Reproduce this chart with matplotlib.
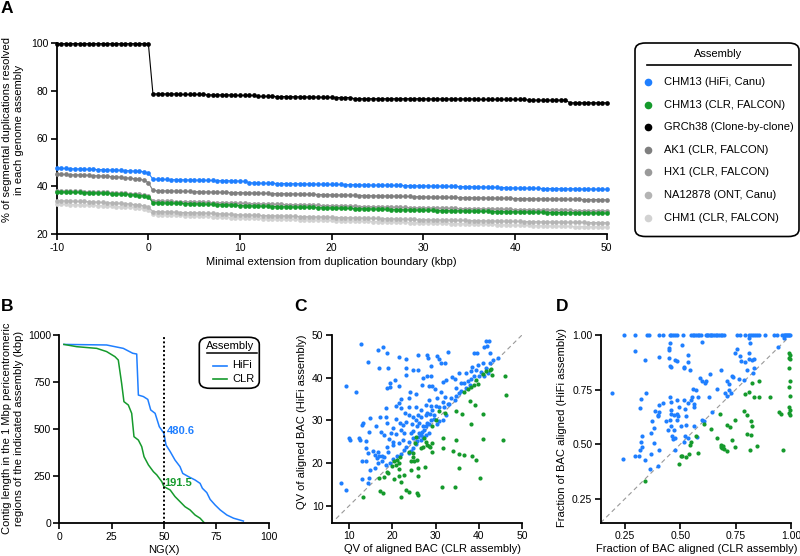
import numpy as np
import matplotlib
matplotlib.use('Agg')
import matplotlib.pyplot as plt
from matplotlib.patches import FancyBboxPatch
from matplotlib.lines import Line2D

plt.rcParams['font.family'] = ['Liberation Sans', 'DejaVu Sans']
plt.rcParams['axes.unicode_minus'] = False

# ---------------- Panel A data ----------------
ext_kbp = np.arange(-10, 50.01, 0.5)

hifi_canu = [
    47.6, 47.5, 47.5, 47.4, 47.3, 47.3, 47.2, 47.1, 47.1, 47.0,
    47.0, 46.9, 46.8, 46.8, 46.7, 46.6, 46.5, 46.4, 46.3, 46.1, 45.6,
    43.0, 43.0, 42.9, 42.9, 42.8, 42.8, 42.8, 42.7, 42.7, 42.6,
    42.6, 42.6, 42.5, 42.5, 42.4, 42.4, 42.4, 42.3, 42.3, 42.2,
    42.1, 41.6, 41.4, 41.4, 41.3, 41.3, 41.3, 41.2, 41.2, 41.2,
    41.1, 41.1, 41.1, 41.0, 41.0, 41.0, 40.9, 40.9, 40.9, 40.8,
    40.8, 40.8, 40.7, 40.7, 40.7, 40.6, 40.6, 40.6, 40.5, 40.5,
    40.5, 40.5, 40.4, 40.4, 40.4, 40.3, 40.3, 40.3, 40.2, 40.2,
    40.2, 40.1, 40.1, 40.1, 40.0, 40.0, 40.0, 39.9, 39.9, 39.9,
    39.8, 39.8, 39.7, 39.7, 39.6, 39.6, 39.5, 39.5, 39.4, 39.3,
    39.3, 39.3, 39.2, 39.2, 39.2, 39.1, 39.1, 39.1, 39.1, 39.0,
    39.0, 39.0, 39.0, 38.9, 38.9, 38.9, 38.9, 38.8, 38.8, 38.8]

clr_falcon = [
    37.7, 37.7, 37.6, 37.6, 37.5, 37.5, 37.4, 37.4, 37.3, 37.2,
    37.2, 37.1, 37.0, 36.9, 36.8, 36.7, 36.6, 36.4, 36.2, 36.0, 35.6,
    33.2, 33.1, 33.1, 33.0, 33.0, 32.9, 32.9, 32.8, 32.8, 32.7,
    32.7, 32.6, 32.5, 32.5, 32.4, 32.4, 32.3, 32.2, 32.1, 32.0,
    31.9, 31.9, 31.8, 31.8, 31.7, 31.7, 31.6, 31.6, 31.5, 31.5,
    31.4, 31.4, 31.3, 31.3, 31.2, 31.2, 31.1, 31.1, 31.0, 31.0,
    30.9, 30.9, 30.8, 30.8, 30.7, 30.7, 30.6, 30.6, 30.5, 30.5,
    30.4, 30.4, 30.3, 30.3, 30.3, 30.2, 30.2, 30.1, 30.1, 30.0,
    30.0, 30.0, 29.9, 29.9, 29.9, 29.8, 29.8, 29.8, 29.7, 29.7,
    29.7, 29.6, 29.6, 29.6, 29.5, 29.5, 29.5, 29.4, 29.4, 29.4,
    29.3, 29.3, 29.3, 29.2, 29.2, 29.2, 29.1, 29.1, 29.1, 29.1,
    29.0, 29.0, 29.0, 28.9, 28.9, 28.9, 28.9, 28.8, 28.8, 28.8]

grch38 = [
    99.6, 99.6, 99.6, 99.6, 99.6, 99.6, 99.6, 99.6, 99.6, 99.6,
    99.6, 99.6, 99.6, 99.6, 99.6, 99.6, 99.6, 99.6, 99.6, 99.6, 99.6,
    78.6, 78.6, 78.6, 78.6, 78.6, 78.6, 78.4, 78.4, 78.4, 78.4,
    78.4, 78.4, 78.2, 78.2, 78.2, 78.2, 78.2, 78.2, 78.0, 78.0,
    78.0, 78.0, 78.0, 77.6, 77.6, 77.6, 77.6, 77.5, 77.5, 77.5,
    77.5, 77.4, 77.4, 77.4, 77.3, 77.3, 77.3, 77.2, 77.2, 77.2,
    77.1, 77.1, 77.1, 77.1, 76.6, 76.6, 76.6, 76.6, 76.6, 76.6,
    76.6, 76.6, 76.6, 76.6, 76.6, 76.6, 76.6, 76.6, 76.6, 76.6,
    76.5, 76.5, 76.5, 76.5, 76.5, 76.5, 76.5, 76.5, 76.5, 76.5,
    76.5, 76.3, 76.3, 76.3, 76.3, 76.3, 76.3, 76.3, 76.3, 76.3,
    76.3, 76.3, 76.0, 76.0, 76.0, 76.0, 76.0, 76.0, 76.0, 76.0,
    76.0, 74.9, 74.9, 74.9, 74.9, 74.9, 74.9, 74.9, 74.9, 74.9]

ak1 = [
    45.1, 45.0, 45.0, 44.9, 44.8, 44.8, 44.7, 44.6, 44.5, 44.4,
    44.3, 44.2, 44.1, 44.0, 43.8, 43.6, 43.4, 43.2, 43.0, 42.6, 41.6,
    38.3, 38.2, 38.2, 38.1, 38.1, 38.0, 38.0, 37.9, 37.9, 37.8,
    37.8, 37.7, 37.7, 37.6, 37.6, 37.5, 37.5, 37.4, 37.4, 37.4,
    37.3, 37.3, 37.2, 37.2, 37.1, 37.1, 37.0, 37.0, 37.0, 36.9,
    36.9, 36.8, 36.8, 36.7, 36.7, 36.7, 36.6, 36.6, 36.5, 36.5,
    36.4, 36.4, 36.4, 36.3, 36.3, 36.2, 36.2, 36.1, 36.1, 36.0,
    36.0, 36.0, 35.9, 35.9, 35.8, 35.8, 35.8, 35.7, 35.7, 35.6,
    35.6, 35.5, 35.5, 35.5, 35.4, 35.4, 35.4, 35.3, 35.3, 35.3,
    35.2, 35.2, 35.2, 35.1, 35.1, 35.1, 35.0, 35.0, 35.0, 34.9,
    34.9, 34.9, 34.8, 34.8, 34.8, 34.8, 34.7, 34.7, 34.7, 34.7,
    34.6, 34.6, 34.6, 34.6, 34.5, 34.5, 34.5, 34.5, 34.4, 34.4]

hx1 = [
    38.1, 38.1, 38.0, 38.0, 37.9, 37.9, 37.8, 37.8, 37.7, 37.7,
    37.6, 37.5, 37.4, 37.3, 37.2, 37.1, 37.0, 36.9, 36.7, 36.5, 36.1,
    33.9, 33.8, 33.8, 33.7, 33.7, 33.6, 33.6, 33.5, 33.5, 33.4,
    33.4, 33.3, 33.3, 33.2, 33.2, 33.1, 33.1, 33.0, 33.0, 32.9,
    32.9, 32.8, 32.8, 32.7, 32.7, 32.6, 32.6, 32.5, 32.5, 32.4,
    32.4, 32.3, 32.3, 32.2, 32.2, 32.1, 32.1, 32.0, 32.0, 31.9,
    31.9, 31.8, 31.8, 31.7, 31.7, 31.6, 31.6, 31.5, 31.5, 31.4,
    31.4, 31.3, 31.3, 31.3, 31.2, 31.2, 31.1, 31.1, 31.0, 31.0,
    31.0, 30.9, 30.9, 30.9, 30.8, 30.8, 30.8, 30.7, 30.7, 30.7,
    30.6, 30.6, 30.6, 30.5, 30.5, 30.5, 30.4, 30.4, 30.4, 30.3,
    30.3, 30.3, 30.2, 30.2, 30.2, 30.1, 30.1, 30.1, 30.0, 30.0,
    30.0, 30.0, 29.9, 29.9, 29.9, 29.9, 29.8, 29.8, 29.8, 29.8]

na12878 = [
    34.0, 34.0, 33.9, 33.9, 33.8, 33.7, 33.7, 33.6, 33.5, 33.4,
    33.3, 33.2, 33.1, 33.0, 32.9, 32.8, 32.6, 32.4, 32.2, 31.9, 31.3,
    29.5, 29.4, 29.4, 29.3, 29.3, 29.2, 29.1, 29.1, 29.0, 29.0,
    28.9, 28.8, 28.8, 28.7, 28.6, 28.5, 28.4, 28.3, 28.2, 28.1,
    28.0, 28.0, 27.9, 27.9, 27.8, 27.8, 27.7, 27.7, 27.6, 27.6,
    27.5, 27.5, 27.4, 27.4, 27.3, 27.3, 27.2, 27.2, 27.1, 27.1,
    27.0, 27.0, 26.9, 26.9, 26.8, 26.8, 26.7, 26.7, 26.6, 26.6,
    26.5, 26.5, 26.4, 26.4, 26.3, 26.3, 26.2, 26.2, 26.1, 26.1,
    26.0, 26.0, 26.0, 25.9, 25.9, 25.9, 25.8, 25.8, 25.8, 25.7,
    25.7, 25.7, 25.6, 25.6, 25.6, 25.5, 25.5, 25.5, 25.4, 25.4,
    25.4, 25.3, 25.3, 25.3, 25.2, 25.2, 25.2, 25.1, 25.1, 25.1,
    25.1, 25.0, 25.0, 25.0, 25.0, 24.9, 24.9, 24.9, 24.9, 24.8]

chm1 = [
    32.6, 32.5, 32.5, 32.4, 32.4, 32.3, 32.3, 32.2, 32.1, 32.0,
    31.9, 31.8, 31.7, 31.6, 31.5, 31.4, 31.3, 31.1, 30.9, 30.7, 30.2,
    28.3, 28.2, 28.2, 28.1, 28.0, 28.0, 27.9, 27.8, 27.8, 27.7,
    27.6, 27.5, 27.5, 27.4, 27.3, 27.2, 27.1, 27.0, 26.9, 26.8,
    26.7, 26.7, 26.6, 26.6, 26.5, 26.5, 26.4, 26.4, 26.3, 26.3,
    26.2, 26.2, 26.1, 26.1, 26.0, 26.0, 25.9, 25.9, 25.8, 25.8,
    25.7, 25.7, 25.6, 25.6, 25.5, 25.5, 25.4, 25.4, 25.3, 25.3,
    25.2, 25.2, 25.1, 25.1, 25.0, 25.0, 24.9, 24.9, 24.8, 24.8,
    24.8, 24.7, 24.7, 24.6, 24.6, 24.5, 24.5, 24.4, 24.4, 24.3,
    24.3, 24.2, 24.2, 24.1, 24.1, 24.0, 24.0, 23.9, 23.9, 23.8,
    23.8, 23.7, 23.7, 23.6, 23.6, 23.5, 23.5, 23.4, 23.4, 23.3,
    23.3, 23.3, 23.2, 23.2, 23.2, 23.1, 23.1, 23.1, 23.0, 23.0]

assembly_names = ['CHM13 (HiFi, Canu)', 'CHM13 (CLR, FALCON)', 'GRCh38 (Clone-by-clone)',
                  'AK1 (CLR, FALCON)', 'HX1 (CLR, FALCON)', 'NA12878 (ONT, Canu)',
                  'CHM1 (CLR, FALCON)']
assembly_series = [hifi_canu, clr_falcon, grch38, ak1, hx1, na12878, chm1]
assembly_colors = ['#1f7fff', '#159a2c', '#000000', '#7f7f7f', '#9a9a9a', '#b4b4b4', '#d2d2d2']

# ---------------- Panel B data ----------------
hifi_ng = [2.2, 22.6, 30.6, 35.1, 37.0, 37.8, 40.2, 42.3, 43.7, 45.8, 47.8, 50.0, 51.0, 53.0,
           55.3, 57.7, 59.0, 61.7, 64.9, 67.3, 68.4, 70.5, 72.1, 74.5, 76.9, 80.1, 83.3, 88.0]
hifi_len = [950, 947, 929, 903, 899, 681, 673, 658, 602, 584, 513, 478, 416, 381,
            336, 301, 265, 248, 230, 212, 186, 163, 127, 97, 71, 44, 27, 12]
clr_ng = [2.2, 8.3, 17.9, 22.6, 26.6, 28.2, 29.8, 30.9, 33.0, 34.6, 35.7, 37.8, 39.4, 40.5,
          42.6, 45.0, 46.6, 49.0, 50.0, 53.0, 55.3, 57.7, 60.1, 62.5, 64.9, 67.3, 69.2]
clr_len = [950, 938, 929, 912, 885, 867, 743, 646, 628, 584, 460, 442, 407, 354,
           310, 274, 257, 221, 195, 177, 142, 115, 88, 71, 44, 27, 4]
ng50_hifi = 480.6
ng50_clr = 191.5

# ---------------- Panel C data ----------------
qv_clr_hifi = [12.7, 17.9, 16.8, 18.9, 14.4, 17.0, 19.1, 21.6, 23.2, 23.2, 24.9, 25.9, 26.0, 28.1,
    28.2, 30.3, 30.9, 31.2, 32.3, 33.0, 29.0, 28.0, 27.2, 23.2, 20.7, 19.5, 19.4, 18.7, 21.6, 9.4,
    11.7, 24.2, 25.5, 22.1, 23.8, 26.9, 29.0, 29.3, 28.6, 29.8, 31.7, 32.5, 31.3, 33.8, 34.5, 35.5,
    36.6, 37.5, 38.2, 38.8, 39.4, 39.9, 40.9, 38.8, 39.6, 41.1, 41.6, 42.3, 42.0, 42.6, 38.5, 38.2,
    37.1, 40.6, 41.7, 42.5, 43.4, 44.4, 40.0, 41.3, 42.1, 35.8, 34.8, 35.5, 33.6, 32.1, 30.3, 30.1,
    28.9, 28.6, 30.9, 31.7, 27.8, 26.6, 28.1, 29.3, 31.9, 32.9, 28.7, 27.8, 26.6, 26.0, 24.7, 23.9,
    23.0, 23.8, 25.5, 22.0, 20.8, 18.5, 21.6, 20.8, 21.8, 22.4, 23.2, 24.5, 25.5, 26.2, 27.2, 28.1,
    28.6, 29.7, 30.3, 30.9, 31.7, 18.5, 18.9, 20.2, 19.7, 17.2, 16.2, 17.3, 18.1, 14.9, 13.3, 13.0,
    14.6, 14.0, 12.3, 12.6, 10.0, 10.3, 14.0, 14.4, 15.6, 16.6, 16.0, 17.0, 16.4, 17.6, 18.1, 19.1,
    18.7, 20.1, 20.2, 19.3, 20.8, 21.5, 22.4, 23.2, 22.8, 22.0, 21.0, 20.2, 19.4, 18.5, 17.7, 16.6,
    16.0, 14.9, 14.0, 13.1, 14.7, 14.3, 13.1, 8.1, 9.4, 23.9, 24.3, 24.9, 25.5, 26.0, 26.6, 27.2,
    27.8, 28.4, 27.4, 27.8, 26.8, 25.8, 24.9, 24.7, 26.2, 26.6, 25.8, 23.8, 22.8, 22.0, 24.4, 32.4,
    33.2, 34.5, 34.8, 36.0, 37.1, 37.9, 29.7, 29.0]
qv_hifi_hifi = [48.0, 47.3, 46.5, 45.9, 43.7, 42.2, 42.2, 44.8, 44.5, 42.2, 41.8, 45.3, 41.8, 45.3,
    44.7, 45.2, 44.5, 43.4, 43.5, 46.1, 42.8, 40.3, 40.0, 40.6, 39.5, 38.8, 37.9, 37.5, 38.1, 38.1,
    36.6, 36.7, 36.3, 35.0, 35.3, 38.3, 40.3, 38.1, 38.1, 37.4, 39.1, 39.5, 36.7, 40.2, 39.8, 41.2,
    38.8, 39.2, 39.6, 40.5, 41.8, 42.9, 43.4, 45.7, 45.7, 47.3, 48.7, 48.5, 47.4, 45.7, 42.6, 41.5,
    41.0, 41.4, 42.2, 43.4, 44.2, 44.7, 40.4, 40.3, 41.0, 38.8, 37.5, 36.4, 35.3, 35.6, 35.3, 33.4,
    33.4, 34.8, 33.2, 34.4, 33.6, 32.5, 31.8, 32.5, 33.2, 33.8, 31.4, 31.3, 30.9, 31.3, 30.9, 31.3,
    31.7, 33.2, 33.2, 33.0, 33.4, 33.0, 34.2, 30.4, 29.5, 28.9, 29.7, 29.2, 30.1, 29.3, 28.8, 29.3,
    29.2, 30.4, 29.1, 29.8, 30.1, 30.9, 29.3, 28.2, 27.0, 30.7, 28.6, 27.2, 26.6, 30.5, 29.5, 29.0,
    27.2, 25.2, 25.8, 25.4, 26.0, 25.4, 23.5, 22.3, 22.9, 22.7, 21.9, 21.7, 21.1, 21.7, 21.5, 22.7,
    23.9, 24.3, 25.0, 25.6, 26.8, 24.7, 25.4, 23.9, 23.1, 22.2, 21.7, 20.9, 20.1, 19.5, 20.4, 20.0,
    18.8, 18.4, 20.4, 20.4, 16.6, 15.4, 16.2, 15.4, 13.7, 22.3, 22.9, 23.5, 24.5, 26.2, 26.5, 26.2,
    26.6, 27.0, 27.8, 28.6, 27.4, 28.6, 27.6, 25.8, 27.0, 25.4, 25.1, 25.0, 27.0, 27.8, 27.0, 31.3,
    33.9, 34.8, 35.7, 36.9, 37.7, 38.3, 31.3, 30.1]
qv_clr_clr = [13.2, 17.0, 18.1, 17.2, 17.9, 19.1, 18.9, 19.9, 20.5, 20.8, 21.0, 21.6, 21.8, 20.4,
    21.6, 21.6, 22.1, 22.0, 22.7, 23.2, 23.8, 23.9, 24.3, 24.9, 25.1, 25.8, 25.9, 25.9, 25.8, 25.9,
    24.3, 24.7, 25.2, 27.2, 27.4, 27.8, 28.0, 27.5, 29.3, 28.8, 28.6, 29.1, 31.7, 31.7, 31.5, 34.4,
    34.0, 34.8, 35.4, 35.5, 36.5, 38.5, 39.4, 40.4, 40.9, 45.6, 46.4, 46.0, 43.1, 42.9, 41.7, 40.9,
    39.2, 38.2, 37.9, 36.2, 34.8, 32.3, 30.7, 30.1, 29.3, 38.8, 38.2, 37.5, 36.7, 39.4, 39.8, 40.9,
    42.5, 25.5, 26.6]
qv_hifi_clr = [12.0, 16.5, 16.7, 13.4, 13.1, 17.8, 18.0, 19.4, 20.4, 19.6, 20.8, 20.0, 21.5, 16.4,
    18.6, 16.9, 15.5, 12.2, 17.3, 13.7, 13.3, 22.7, 18.3, 21.5, 20.4, 20.8, 18.8, 16.9, 13.1, 12.6,
    20.4, 22.3, 24.8, 23.9, 25.8, 25.0, 24.2, 19.0, 24.8, 23.9, 24.1, 22.7, 25.8, 23.6, 14.4, 14.4,
    22.9, 25.4, 18.8, 22.1, 21.8, 21.6, 20.8, 16.6, 25.6, 25.4, 36.0, 40.3, 40.6, 42.0, 41.6, 31.4,
    33.6, 29.1, 34.6, 31.5, 32.2, 31.8, 32.2, 30.1, 28.7, 38.3, 37.9, 37.3, 36.7, 39.5, 38.5, 40.9,
    41.8, 26.2, 23.5]

# ---------------- Panel D data ----------------
frac_clr_hifi = [0.246, 0.295, 0.347, 0.357, 0.404, 0.421, 0.451, 0.459, 0.466, 0.474, 0.484,
    0.511, 0.548, 0.556, 0.563, 0.571, 0.578, 0.585, 0.593, 0.615, 0.620, 0.626, 0.632, 0.638,
    0.645, 0.653, 0.660, 0.667, 0.675, 0.682, 0.690, 0.697, 0.757, 0.769, 0.794, 0.809, 0.820,
    0.829, 0.839, 0.846, 0.855, 0.884, 0.921, 0.936, 0.958, 0.969, 0.973, 0.978, 0.984, 0.988,
    0.993, 0.997,
    0.190, 0.295, 0.339, 0.344, 0.322, 0.319, 0.325, 0.320, 0.325, 0.317, 0.313, 0.295, 0.243,
    0.339, 0.363, 0.369, 0.369, 0.372, 0.381, 0.381, 0.384, 0.399, 0.399, 0.405, 0.405, 0.402,
    0.401, 0.404, 0.421, 0.436, 0.444, 0.447, 0.448, 0.451, 0.447, 0.451, 0.459, 0.451, 0.456,
    0.456, 0.459, 0.451, 0.459, 0.462, 0.466, 0.471, 0.471, 0.474, 0.484, 0.486, 0.486, 0.489,
    0.477, 0.477, 0.486, 0.496, 0.503, 0.506, 0.515, 0.518, 0.518, 0.521, 0.533, 0.533, 0.536,
    0.545, 0.527, 0.527, 0.521, 0.515, 0.536, 0.548, 0.557, 0.554, 0.563, 0.572, 0.578, 0.560,
    0.563, 0.575, 0.590, 0.596, 0.599, 0.599, 0.605, 0.614, 0.611, 0.630, 0.635, 0.645, 0.667,
    0.682, 0.700, 0.709, 0.712, 0.721, 0.735, 0.739, 0.745, 0.757, 0.764, 0.769, 0.775, 0.787,
    0.790, 0.799, 0.809, 0.809, 0.811, 0.814, 0.824, 0.829, 0.835, 0.835, 0.943, 0.969, 0.727,
    0.718]
frac_hifi_hifi = [1.0] * 52 + [0.736, 0.928, 0.886, 0.736, 0.709, 0.665, 0.535, 0.512, 0.489,
    0.471, 0.447, 0.447, 0.431, 0.428, 0.386, 0.456, 0.550, 0.608, 0.505, 0.573, 0.654, 0.627,
    0.634, 0.680, 0.649, 0.474, 0.401, 0.901, 0.687, 0.604, 0.566, 0.931, 0.942, 0.962, 0.893,
    0.858, 0.855, 0.715, 0.695, 0.657, 0.639, 0.611, 0.581, 0.535, 0.523, 0.566, 0.634, 0.886,
    0.883, 0.703, 0.639, 0.627, 0.474, 0.527, 0.611, 0.672, 0.581, 0.954, 0.848, 0.855, 0.703,
    0.660, 0.687, 0.878, 0.909, 0.840, 0.627, 0.588, 0.535, 0.512, 0.527, 0.703, 0.752, 0.715,
    0.684, 0.748, 0.718, 0.672, 0.581, 0.532, 0.802, 0.787, 0.970, 0.611, 0.608, 0.790, 0.782,
    0.718, 0.822, 0.645, 0.752, 0.840, 0.733, 0.791, 0.721, 0.776, 0.814, 0.806, 0.916, 0.934,
    0.799, 0.904, 0.883, 0.794, 0.878, 0.840, 0.985, 0.916, 0.889, 0.965, 0.886, 0.828, 0.889,
    0.848, 0.947, 0.985, 0.736, 0.748]
frac_clr_clr = [0.342, 0.492, 0.503, 0.506, 0.526, 0.541, 0.545, 0.548, 0.571, 0.581, 0.605,
    0.638, 0.667, 0.679, 0.682, 0.685, 0.688, 0.694, 0.697, 0.709, 0.712, 0.724, 0.732, 0.745,
    0.748, 0.787, 0.790, 0.799, 0.802, 0.809, 0.814, 0.817, 0.820, 0.823, 0.826, 0.835, 0.854,
    0.846, 0.855, 0.903, 0.948, 0.954, 0.966, 0.993, 0.994, 0.993, 0.996, 0.993, 0.996, 0.993,
    0.996, 0.993, 0.996, 0.993, 0.996]
frac_hifi_clr = [0.332, 0.410, 0.444, 0.447, 0.439, 0.456, 0.497, 0.512, 0.538, 0.459, 0.593,
    0.569, 0.530, 0.639, 0.497, 0.489, 0.482, 0.492, 0.479, 0.588, 0.470, 0.578, 0.520, 0.611,
    0.485, 0.654, 0.730, 0.634, 0.547, 0.739, 0.474, 0.543, 0.604, 0.584, 0.779, 0.715, 0.715,
    0.492, 0.790, 0.718, 0.646, 0.639, 0.471, 0.916, 0.909, 0.893, 0.890, 0.848, 0.791, 0.761,
    0.721, 0.669, 0.657, 0.642, 0.634]

BLUE = '#1f7fff'
GREEN = '#159a2c'
FS = 8
TFS = 7.5

# ---------------- Figure ----------------
W, H = 800, 556
fig = plt.figure(figsize=(8, 5.56), dpi=100)


def rect(l, t, r, b):
    return [l / W, 1 - b / H, (r - l) / W, (b - t) / H]


def fxy(x, y):
    return (x / W, 1 - y / H)


def style(ax):
    for s in ['top', 'right']:
        ax.spines[s].set_visible(False)
    for s in ['left', 'bottom']:
        ax.spines[s].set_linewidth(1.3)
    ax.tick_params(direction='out', length=4, width=1.2, labelsize=TFS, pad=2, colors='black')


# Panel A
axA = fig.add_axes(rect(56.7, 42.7, 606.7, 234.3))
style(axA)
order = [6, 5, 4, 3, 1, 0, 2]
for i in order:
    axA.plot(ext_kbp, assembly_series[i], '-o', color=assembly_colors[i], lw=0.8, ms=3.4,
             mew=0, clip_on=False, zorder=3)
axA.set_xlim(-10, 50)
axA.set_ylim(20, 100)
axA.set_xticks([-10, 0, 10, 20, 30, 40, 50])
axA.set_yticks([20, 40, 60, 80, 100])
fig.text(*fxy(331.7, 262), 'Minimal extension from duplication boundary (kbp)', ha='center',
         va='center', fontsize=FS)
fig.text(*fxy(13.5, 130), '% of segmental duplications resolved\nin each genome assembly',
         ha='center', va='center', rotation=90, fontsize=FS, multialignment='center',
         linespacing=1.25)

# Legend A (drawn manually)
boxA = FancyBboxPatch(fxy(635, 236.5), (799 - 635) / W, (236.5 - 43) / H,
                      boxstyle='round,pad=0,rounding_size=0.013', transform=fig.transFigure,
                      fc='white', ec='black', lw=1.2)
fig.add_artist(boxA)
fig.text(*fxy(718, 54.5), 'Assembly', ha='center', va='center', fontsize=FS)
fig.add_artist(Line2D([646.5 / W, 791 / W], [1 - 65 / H, 1 - 65 / H], color='black', lw=1.2,
                      transform=fig.transFigure))
entry_y = [82.3, 105, 127.3, 150, 172.3, 195, 217.7]
for name, col, ey in zip(assembly_names, assembly_colors, entry_y):
    fig.add_artist(Line2D([648.3 / W], [1 - ey / H], marker='o', ms=5.5, mew=0, color=col,
                          transform=fig.transFigure))
    fig.text(*fxy(664, ey), name, ha='left', va='center', fontsize=FS)

# Panel B
axB = fig.add_axes(rect(59.3, 335, 268.5, 523.3))
style(axB)
axB.plot(hifi_ng, hifi_len, color=BLUE, lw=1.1)
axB.plot(clr_ng, clr_len, color=GREEN, lw=1.1)
axB.plot([50, 50], [0, 1000], color='black', lw=1.4, ls=(0, (1, 1.2)))
axB.set_xlim(0, 100)
axB.set_ylim(0, 1000)
axB.set_xticks([0, 25, 50, 75, 100])
axB.set_yticks([0, 250, 500, 750, 1000])
axB.text(51.2, 492, f'{ng50_hifi}', color=BLUE, fontsize=FS, fontweight='bold', ha='left',
         va='center')
axB.text(50.3, 216, f'{ng50_clr}', color=GREEN, fontsize=FS, fontweight='bold', ha='left',
         va='center')
fig.text(*fxy(163.5, 550), 'NG(X)', ha='center', va='center', fontsize=FS)
fig.text(*fxy(13.5, 428), 'Contig length in the 1 Mbp pericentromeric\nregions of the indicated assembly (kbp)',
         ha='center', va='center', rotation=90, fontsize=FS, multialignment='center',
         linespacing=1.25)

boxB = FancyBboxPatch(fxy(199.3, 388.3), (259.3 - 199.3) / W, (388.3 - 337.3) / H,
                      boxstyle='round,pad=0,rounding_size=0.013', transform=fig.transFigure,
                      fc='white', ec='black', lw=1.2)
fig.add_artist(boxB)
fig.text(*fxy(230, 345.7), 'Assembly', ha='center', va='center', fontsize=FS)
fig.add_artist(Line2D([207 / W, 257 / W], [1 - 352.5 / H, 1 - 352.5 / H], color='black', lw=1.1,
                      transform=fig.transFigure))
for lab, col, ey in [('HiFi', BLUE, 365.5), ('CLR', GREEN, 379)]:
    fig.add_artist(Line2D([213 / W, 227 / W], [1 - ey / H, 1 - ey / H], color=col, lw=1.2,
                          transform=fig.transFigure))
    fig.text(*fxy(232.5, ey), lab, ha='left', va='center', fontsize=FS)

# Panel C
axC = fig.add_axes(rect(331.7, 335, 522, 523))
style(axC)
axC.plot([7, 50], [7, 50], color='#999999', lw=0.8, ls=(0, (4, 3)), zorder=1)
axC.scatter(qv_clr_hifi, qv_hifi_hifi, s=9, color=BLUE, linewidths=0, zorder=3, clip_on=False)
axC.scatter(qv_clr_clr, qv_hifi_clr, s=9, color=GREEN, linewidths=0, zorder=3, clip_on=False)
axC.set_xlim(6, 50)
axC.set_ylim(6, 50)
axC.set_xticks([10, 20, 30, 40, 50])
axC.set_yticks([10, 20, 30, 40, 50])
fig.text(*fxy(432.5, 548.5), 'QV of aligned BAC (CLR assembly)', ha='center', va='center',
         fontsize=FS)
fig.text(*fxy(302, 421.5), 'QV of aligned BAC (HiFi assembly)', ha='center', va='center',
         rotation=90, fontsize=FS)

# Panel D
axD = fig.add_axes(rect(600.7, 335, 791, 522.7))
style(axD)
axD.plot([0.14, 1.0], [0.14, 1.0], color='#999999', lw=0.8, ls=(0, (4, 3)), zorder=1)
axD.scatter(frac_clr_hifi, frac_hifi_hifi, s=9, color=BLUE, linewidths=0, zorder=3, clip_on=False)
axD.scatter(frac_clr_clr, frac_hifi_clr, s=9, color=GREEN, linewidths=0, zorder=3, clip_on=False)
axD.set_xlim(0.14, 1.0)
axD.set_ylim(0.14, 1.0)
axD.set_xticks([0.25, 0.50, 0.75, 1.00])
axD.set_yticks([0.25, 0.50, 0.75, 1.00])
axD.set_xticklabels(['0.25', '0.50', '0.75', '1.00'])
axD.set_yticklabels(['0.25', '0.50', '0.75', '1.00'])
fig.text(*fxy(697, 549), 'Fraction of BAC aligned (CLR assembly)', ha='center', va='center',
         fontsize=FS)
fig.text(*fxy(562, 427.5), 'Fraction of BAC aligned (HiFi assembly)', ha='center', va='center',
         rotation=90, fontsize=FS)

# Panel letters
for lab, x, y in [('A', 0.5, 1), ('B', 0.5, 299), ('C', 294, 299), ('D', 556, 299)]:
    fig.text(*fxy(x, y), lab, ha='left', va='top', fontsize=12.5, fontweight='bold')

fig.savefig('out.png', dpi=100)
